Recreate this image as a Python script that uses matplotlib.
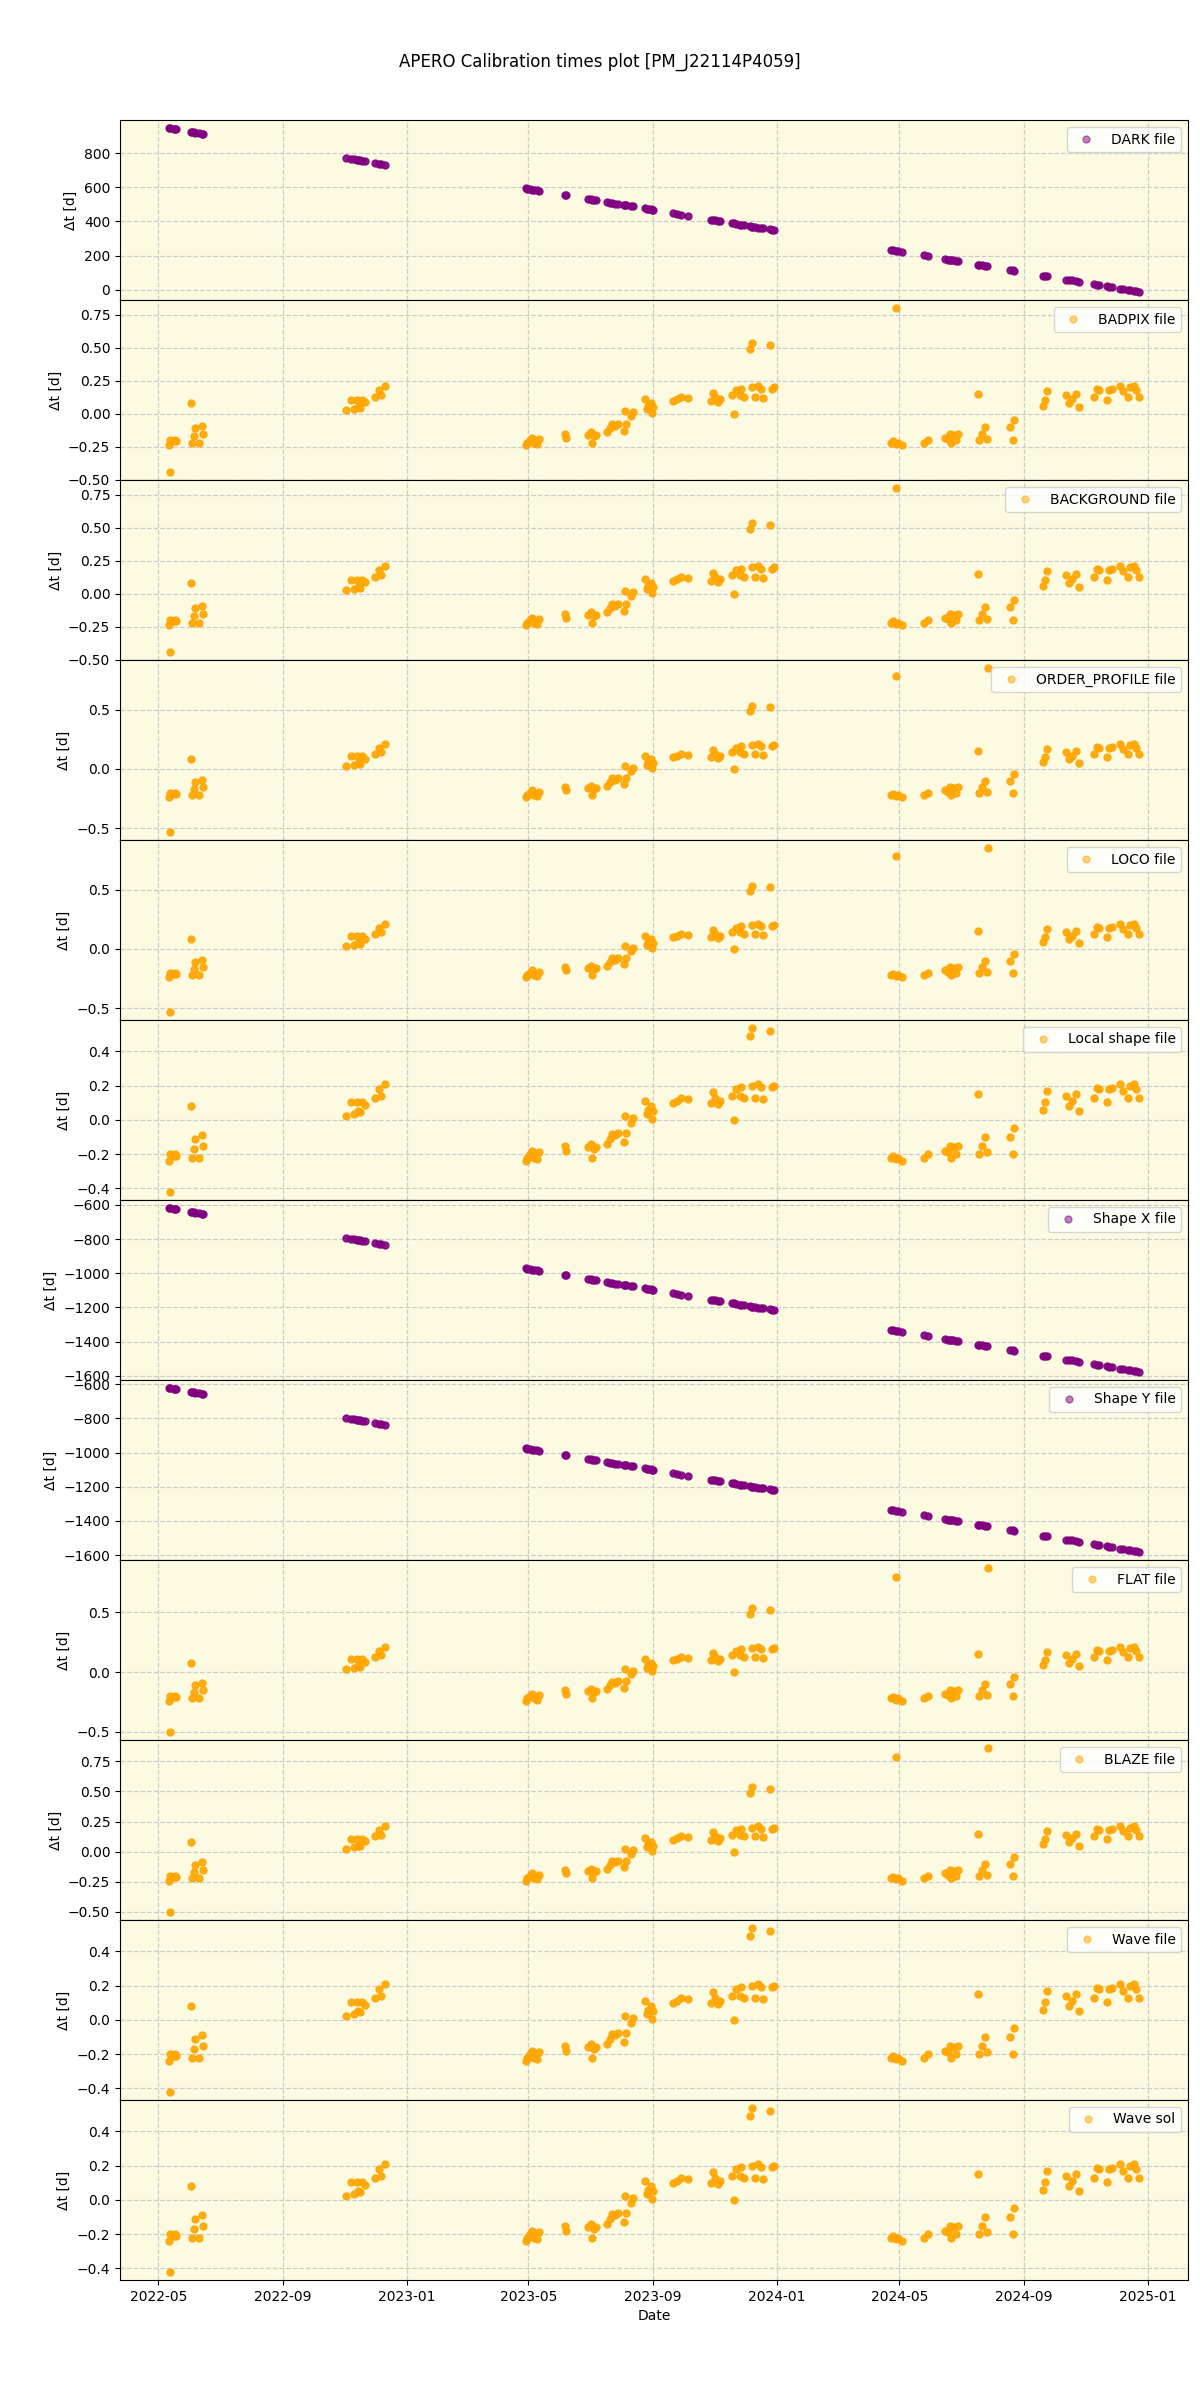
import numpy as np
import pandas as pd
import matplotlib
matplotlib.use('Agg')
import matplotlib.pyplot as plt
import matplotlib.dates as mdates

# nights with calibrations
obs_dates = ['2022-05-11', '2022-05-12', '2022-05-16', '2022-05-17', '2022-05-18', '2022-06-02',
             '2022-06-03', '2022-06-05', '2022-06-06', '2022-06-10', '2022-06-13', '2022-06-14',
             '2022-11-02', '2022-11-07', '2022-11-10', '2022-11-13', '2022-11-14', '2022-11-16',
             '2022-11-18', '2022-11-21', '2022-12-01', '2022-12-05', '2022-12-07', '2022-12-11',
             '2023-04-29', '2023-04-30', '2023-05-03', '2023-05-05', '2023-05-07', '2023-05-10',
             '2023-05-12', '2023-06-06', '2023-06-07', '2023-06-29', '2023-07-02', '2023-07-03',
             '2023-07-05', '2023-07-07', '2023-07-18', '2023-07-21', '2023-07-23', '2023-07-26',
             '2023-07-28', '2023-08-03', '2023-08-04', '2023-08-05', '2023-08-10', '2023-08-12',
             '2023-08-24', '2023-08-26', '2023-08-27', '2023-08-30', '2023-08-31', '2023-09-01',
             '2023-09-21', '2023-09-25', '2023-09-29', '2023-10-06', '2023-10-28', '2023-10-30',
             '2023-11-01', '2023-11-04', '2023-11-06', '2023-11-18', '2023-11-20', '2023-11-22',
             '2023-11-26', '2023-11-27', '2023-11-30', '2023-12-06', '2023-12-08', '2023-12-08',
             '2023-12-11', '2023-12-14', '2023-12-17', '2023-12-19', '2023-12-25', '2023-12-27',
             '2023-12-29',
             '2024-04-23', '2024-04-25', '2024-04-28', '2024-04-30', '2024-05-04', '2024-05-25',
             '2024-05-29', '2024-06-15', '2024-06-18', '2024-06-20', '2024-06-21', '2024-06-23',
             '2024-06-26', '2024-06-28', '2024-07-18', '2024-07-19', '2024-07-22', '2024-07-25',
             '2024-07-27', '2024-08-18', '2024-08-21', '2024-08-22', '2024-09-20', '2024-09-22',
             '2024-09-24', '2024-10-13', '2024-10-15', '2024-10-18', '2024-10-22', '2024-10-25',
             '2024-11-09', '2024-11-12', '2024-11-14', '2024-11-22', '2024-11-24', '2024-11-27',
             '2024-12-05', '2024-12-08', '2024-12-13', '2024-12-15', '2024-12-19', '2024-12-21',
             '2024-12-24']

dark_dt = [946, 945, 941, 940, 939, 924, 923, 921, 920, 916, 913, 912,
           771, 766, 763, 760, 759, 757, 755, 752, 742, 738, 736, 732,
           593, 592, 589, 587, 585, 582, 580, 555, 554, 532, 529, 528, 526, 524, 513, 510,
           508, 505, 503, 497, 496, 495, 490, 488, 476, 474, 473, 470, 469, 468, 448, 444,
           440, 433, 411, 409, 407, 404, 402, 390, 388, 386, 382, 381, 378, 372, 370, 370,
           367, 364, 361, 359, 353, 351, 349,
           233, 231, 228, 226, 222, 201, 197, 180, 177, 175, 174, 172, 169, 167, 147, 146,
           143, 140, 138, 116, 113, 112, 83, 81, 79, 60, 58, 55, 51, 48, 33, 30, 28, 20, 18,
           15, 7, 4, -1, -3, -7, -9, -12]

shape_x_dt = [-619, -620, -624, -625, -626, -641, -642, -644, -645, -649, -652, -653,
              -794, -799, -802, -805, -806, -808, -810, -813, -823, -827, -829, -833,
              -972, -973, -976, -978, -980, -983, -985, -1010, -1011, -1033, -1036, -1037,
              -1039, -1041, -1052, -1055, -1057, -1060, -1062, -1068, -1069, -1070, -1075,
              -1077, -1089, -1091, -1092, -1095, -1096, -1097, -1117, -1121, -1125, -1132,
              -1154, -1156, -1158, -1161, -1163, -1175, -1177, -1179, -1183, -1184, -1187,
              -1193, -1195, -1195, -1198, -1201, -1204, -1206, -1212, -1214, -1216,
              -1332, -1334, -1337, -1339, -1343, -1364, -1368, -1385, -1388, -1390, -1391,
              -1393, -1396, -1398, -1418, -1419, -1422, -1425, -1427, -1449, -1452, -1453,
              -1482, -1484, -1486, -1505, -1507, -1510, -1514, -1517, -1532, -1535, -1537,
              -1545, -1547, -1550, -1558, -1561, -1566, -1568, -1572, -1574, -1577]

shape_y_dt = [-623, -624, -628, -629, -630, -645, -646, -648, -649, -653, -656, -657,
              -798, -803, -806, -809, -810, -812, -814, -817, -827, -831, -833, -837,
              -976, -977, -980, -982, -984, -987, -989, -1014, -1015, -1037, -1040, -1041,
              -1043, -1045, -1056, -1059, -1061, -1064, -1066, -1072, -1073, -1074, -1079,
              -1081, -1093, -1095, -1096, -1099, -1100, -1101, -1121, -1125, -1129, -1136,
              -1158, -1160, -1162, -1165, -1167, -1179, -1181, -1183, -1187, -1188, -1191,
              -1197, -1199, -1199, -1202, -1205, -1208, -1210, -1216, -1218, -1220,
              -1336, -1338, -1341, -1343, -1347, -1368, -1372, -1389, -1392, -1394, -1395,
              -1397, -1400, -1402, -1422, -1423, -1426, -1429, -1431, -1453, -1456, -1457,
              -1486, -1488, -1490, -1509, -1511, -1514, -1518, -1521, -1536, -1539, -1541,
              -1549, -1551, -1554, -1562, -1565, -1570, -1572, -1576, -1578, -1581]

# offsets of the nightly calibs (same for the small-offset file types)
night_dt = [-0.24, -0.20, -0.21, -0.20, -0.21, 0.08, -0.22, -0.17, -0.11, -0.22, -0.09, -0.15,
            0.025, 0.106, 0.035, 0.106, 0.05, 0.043, 0.106, 0.086, 0.13, 0.18, 0.14, 0.21,
            -0.24, -0.22, -0.20, -0.18, -0.22, -0.23, -0.19, -0.15, -0.18, -0.16, -0.14, -0.22,
            -0.17, -0.16, -0.14, -0.11, -0.08, -0.09, -0.076, -0.13, 0.023, -0.076, -0.02, 0.01,
            0.11, 0.035, 0.06, 0.08, 0.005, 0.05, 0.10, 0.11, 0.126, 0.12, 0.10, 0.16,
            0.13, 0.09, 0.11, 0.14, 0.0, 0.18, 0.14, 0.19, 0.13, 0.49, 0.535, 0.20,
            0.13, 0.21, 0.19, 0.12, 0.52, 0.19, 0.20,
            -0.22, -0.21, -0.23, -0.22, -0.24, -0.22, -0.20, -0.18, -0.19, -0.15, -0.22, -0.16,
            -0.20, -0.15, 0.15, -0.20, -0.15, -0.10, -0.19, -0.10, -0.20, -0.045, 0.06, 0.105,
            0.17, 0.14, 0.08, 0.11, 0.15, 0.05, 0.126, 0.187, 0.18, 0.105, 0.18, 0.187,
            0.21, 0.17, 0.13, 0.20, 0.21, 0.18, 0.13]

# odd single calibs per file type
extra_dates_a = ['2022-05-12', '2024-04-28']
extra_dates_b = ['2022-05-12', '2024-04-28', '2024-07-28']
extra_dates_c = ['2022-05-12']
badpix_extra = [-0.44, 0.80]
background_extra = [-0.44, 0.80]
order_profile_extra = [-0.53, 0.78, 0.85]
loco_extra = [-0.53, 0.78, 0.85]
local_shape_extra = [-0.42]
flat_extra = [-0.50, 0.80, 0.87]
blaze_extra = [-0.50, 0.79, 0.86]
wave_file_extra = [-0.42]
wave_sol_extra = [-0.42]

panels = [
    ('DARK file', 'purple', obs_dates, dark_dt),
    ('BADPIX file', 'orange', obs_dates + extra_dates_a, night_dt + badpix_extra),
    ('BACKGROUND file', 'orange', obs_dates + extra_dates_a, night_dt + background_extra),
    ('ORDER_PROFILE file', 'orange', obs_dates + extra_dates_b, night_dt + order_profile_extra),
    ('LOCO file', 'orange', obs_dates + extra_dates_b, night_dt + loco_extra),
    ('Local shape file', 'orange', obs_dates + extra_dates_c, night_dt + local_shape_extra),
    ('Shape X file', 'purple', obs_dates, shape_x_dt),
    ('Shape Y file', 'purple', obs_dates, shape_y_dt),
    ('FLAT file', 'orange', obs_dates + extra_dates_b, night_dt + flat_extra),
    ('BLAZE file', 'orange', obs_dates + extra_dates_b, night_dt + blaze_extra),
    ('Wave file', 'orange', obs_dates + extra_dates_c, night_dt + wave_file_extra),
    ('Wave sol', 'orange', obs_dates + extra_dates_c, night_dt + wave_sol_extra),
]

fig, axes = plt.subplots(len(panels), 1, figsize=(12, 24), dpi=100, sharex=True)
fig.subplots_adjust(left=0.1, right=0.99, top=0.95, bottom=0.05, hspace=0)

for ax, (name, col, xd, yd) in zip(axes, panels):
    ax.set_facecolor('#fcfbe2')
    ax.plot(pd.to_datetime(xd), yd, ls='None', marker='o', ms=5, color=col,
            alpha=0.9, label=name)
    ax.grid(True, ls='--', color='0.8', lw=0.9)
    ax.set_ylabel('Δt [d]')
    leg = ax.legend(loc='upper right')
    for h in leg.legend_handles:
        h.set_alpha(0.5)

axes[-1].xaxis.set_major_locator(mdates.MonthLocator(bymonth=[1, 5, 9]))
axes[-1].xaxis.set_major_formatter(mdates.DateFormatter('%Y-%m'))
axes[-1].set_xlabel('Date')
fig.suptitle('APERO Calibration times plot [PM_J22114P4059]', fontsize=12, y=0.978)

plt.savefig('out.png')
